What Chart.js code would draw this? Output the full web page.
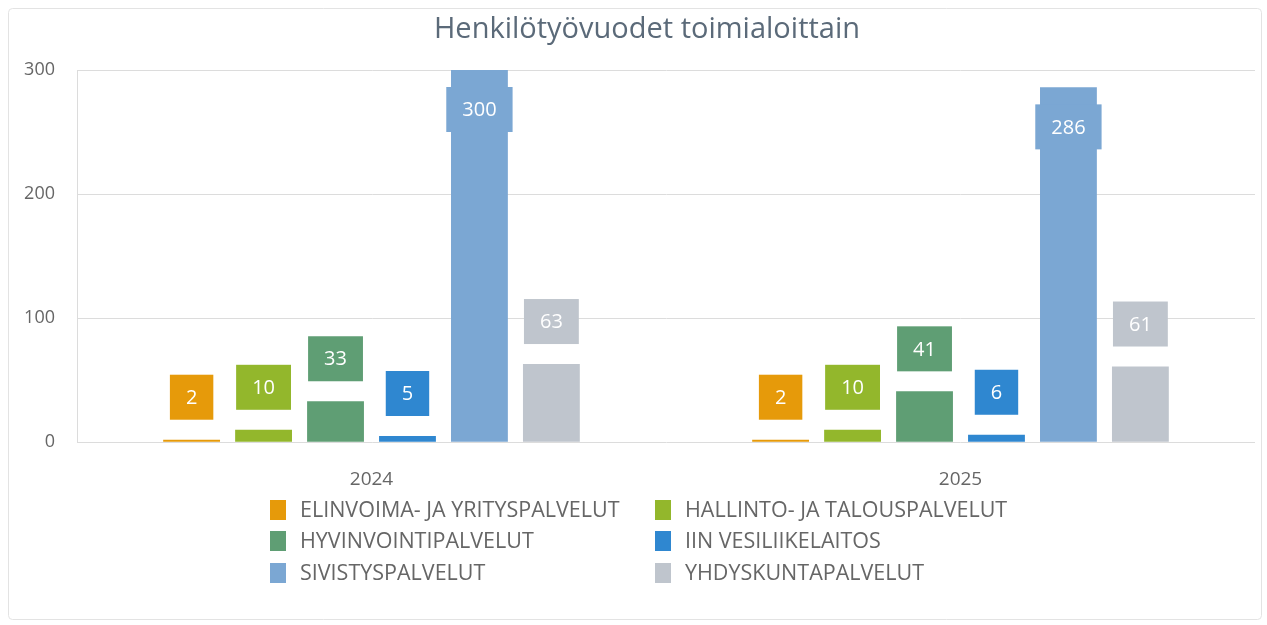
<!DOCTYPE html>
<html lang="fi">
<head>
    <meta charset="UTF-8">
    <meta name="viewport" content="width=device-width, initial-scale=1.0">
    <script src="https://cdn.jsdelivr.net/npm/chart.js"></script>
    <title>Henkilötyövuodet toimialoittain</title>
    <style>
      html, body { margin: 0; padding: 0; background: #fff; }
      #wrap { width: 1267px; height: 625px; position: relative; }
    </style>
</head>
<body>
    <div id="wrap">
      <canvas id="myChart"></canvas>
    </div>

    <script>
      const chartTitle = 'Henkilötyövuodet toimialoittain';
      const years = ['2024', '2025'];
      const sectors = [
        'ELINVOIMA- JA YRITYSPALVELUT',
        'HALLINTO- JA TALOUSPALVELUT',
        'HYVINVOINTIPALVELUT',
        'IIN VESILIIKELAITOS',
        'SIVISTYSPALVELUT',
        'YHDYSKUNTAPALVELUT'
      ];
      const elinvoima = [2, 2];
      const hallinto = [10, 10];
      const hyvinvointi = [33, 41];
      const vesiliikelaitos = [5, 6];
      const sivistys = [300, 286];
      const yhdyskunta = [63, 61];
      const yTicks = [0, 100, 200, 300];

      const colors = ['#e69a0a', '#93b72c', '#5f9e74', '#2f87d0', '#7ba7d3', '#bfc5cd'];
      const values = [elinvoima, hallinto, hyvinvointi, vesiliikelaitos, sivistys, yhdyskunta];

      const font = '"Open Sans", "Noto Sans", sans-serif';

      // outer light frame + title
      const framePlugin = {
        id: 'frame',
        beforeDraw(chart) {
          const c = chart.ctx;
          c.save();
          c.strokeStyle = '#e3e3e3';
          c.lineWidth = 1;
          c.beginPath();
          c.roundRect(8.5, 8.5, 1253, 611, 4);
          c.stroke();
          c.fillStyle = '#5b6a79';
          c.font = '29px ' + font;
          c.textAlign = 'center';
          c.textBaseline = 'middle';
          c.fillText(chartTitle, 647, 30);
          c.restore();
        }
      };

      // value boxes above the bars
      const boxLabels = {
        id: 'boxLabels',
        afterDatasetsDraw(chart) {
          const c = chart.ctx;
          const area = chart.chartArea;
          c.save();
          c.font = '20px ' + font;
          c.textAlign = 'center';
          c.textBaseline = 'middle';
          chart.data.datasets.forEach((ds, i) => {
            chart.getDatasetMeta(i).data.forEach((bar, j) => {
              const txt = String(ds.data[j]);
              const w = c.measureText(txt).width + 32;
              const h = 45;
              let top = bar.y - 20 - h;
              if (top < area.top) top = bar.y + 17;
              c.fillStyle = ds.backgroundColor;
              c.fillRect(bar.x - w / 2, top, w, h);
              c.fillStyle = '#ffffff';
              c.fillText(txt, bar.x, top + h / 2 + 1);
            });
          });
          c.restore();
        }
      };

      // legend in two fixed columns
      const twoColLegend = {
        id: 'twoColLegend',
        afterDraw(chart) {
          const c = chart.ctx;
          const cols = [270, 655];
          const rows = [510, 541, 573];
          c.save();
          c.font = '21.5px ' + font;
          c.textBaseline = 'middle';
          c.textAlign = 'left';
          chart.data.datasets.forEach((ds, i) => {
            const x = cols[i % 2];
            const y = rows[Math.floor(i / 2)];
            c.fillStyle = ds.backgroundColor;
            c.fillRect(x, y - 10, 16, 20);
            c.fillStyle = '#666666';
            c.fillText(ds.label, x + 30, y + 1);
          });
          c.restore();
        }
      };

      const ctx = document.getElementById('myChart');

      new Chart(ctx, {
        type: 'bar',
        data: {
          labels: years,
          datasets: sectors.map((name, i) => ({
            label: name,
            data: values[i],
            backgroundColor: colors[i],
            borderWidth: 0,
            categoryPercentage: 0.733,
            barPercentage: 0.79
          }))
        },
        options: {
          responsive: true,
          maintainAspectRatio: false,
          animation: false,
          layout: {
            padding: { left: 0, right: 12, top: 70, bottom: 108 }
          },
          plugins: {
            legend: { display: false },
            tooltip: { enabled: false },
            title: { display: false }
          },
          scales: {
            x: {
              grid: { display: false, drawTicks: false },
              border: { display: false },
              ticks: {
                color: '#666666',
                font: { family: font, size: 19 },
                padding: 26
              }
            },
            y: {
              min: 0,
              max: 300,
              afterBuildTicks(scale) {
                scale.ticks = yTicks.map(v => ({ value: v }));
              },
              afterFit(scale) {
                scale.width = 77;
              },
              grid: { color: '#dcdcdc', drawTicks: false },
              border: { display: true, color: '#dcdcdc' },
              ticks: {
                color: '#666666',
                font: { family: font, size: 18 },
                padding: 22
              }
            }
          }
        },
        plugins: [framePlugin, boxLabels, twoColLegend]
      });
    </script>
 </body>
</html>
